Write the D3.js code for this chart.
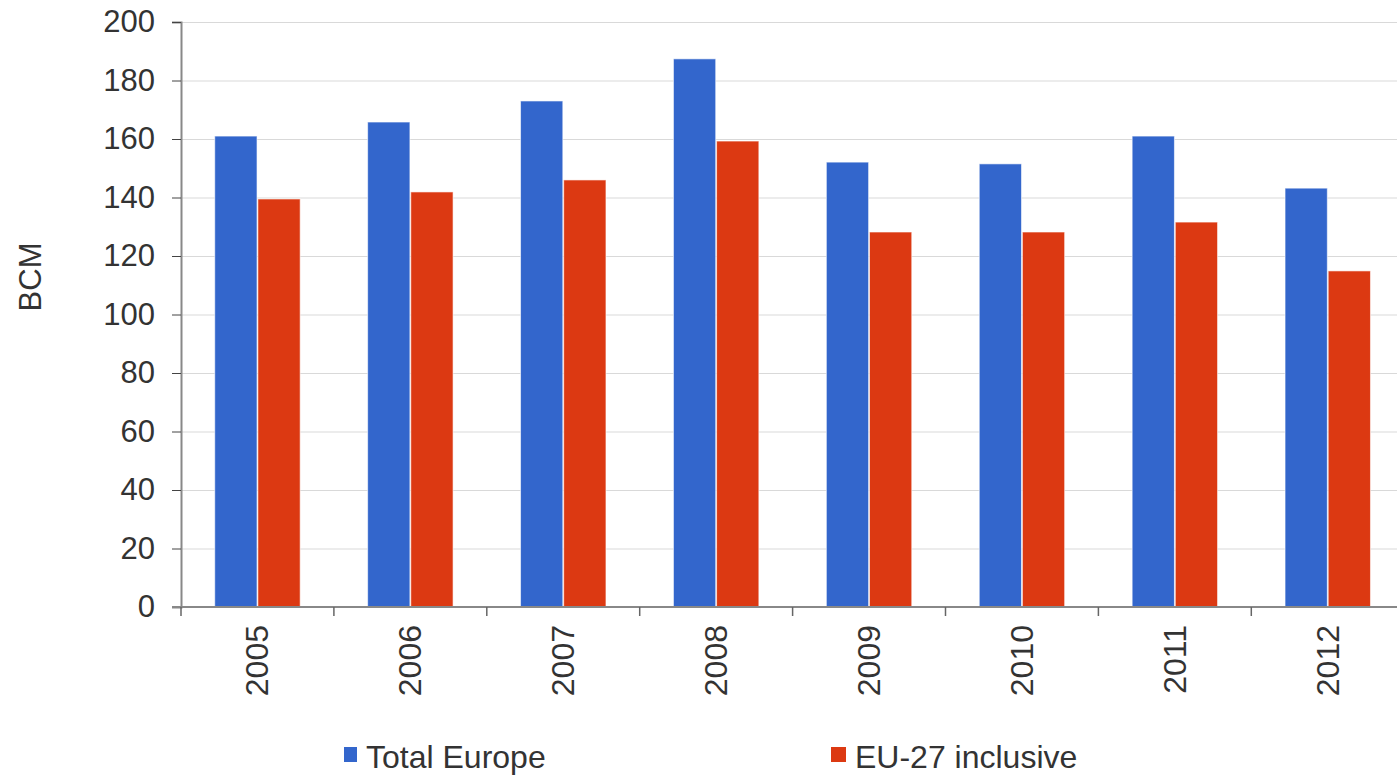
<!DOCTYPE html>
<html>
<head>
<meta charset="utf-8">
<script src="https://cdn.jsdelivr.net/npm/d3@7"></script>
<style>
  body { margin: 0; background: #fff; overflow: hidden; }
  text { font-family: "Liberation Sans", Arial, sans-serif; fill: #333; }
</style>
</head>
<body>
<div id="chart"></div>
<script>
const years = ["2005", "2006", "2007", "2008", "2009", "2010", "2011", "2012"];
const totalEurope = [161, 165.8, 173, 187.4, 152.1, 151.5, 161, 143.2];
const eu27 = [139.5, 141.9, 146, 159.3, 128.2, 128.2, 131.6, 114.9];
const seriesNames = ["Total Europe", "EU-27 inclusive"];
const seriesColors = ["#3366cc", "#dc3912"];
const yTicks = [0, 20, 40, 60, 80, 100, 120, 140, 160, 180, 200];

const width = 1397, height = 775;
const plotLeft = 181, plotTop = 22, plotBottom = 168;
const step = 152.9; // plot runs a bit past the right edge

const svg = d3.select("#chart").append("svg")
  .attr("width", width)
  .attr("height", height);

const x0 = d3.scaleBand()
  .domain(years)
  .range([plotLeft, plotLeft + step * years.length])
  .paddingInner(0.43)
  .paddingOuter(0.215);

const x1 = d3.scaleBand()
  .domain(seriesNames)
  .range([0, x0.bandwidth()])
  .padding(0.02);

const y = d3.scaleLinear()
  .domain([0, 200])
  .range([height - plotBottom, plotTop]);

// gridlines
svg.append("g")
  .selectAll("line")
  .data(yTicks.filter(d => d > 0))
  .join("line")
  .attr("x1", plotLeft)
  .attr("x2", width)
  .attr("y1", d => y(d) + 0.5)
  .attr("y2", d => y(d) + 0.5)
  .attr("stroke", "#d9d9d9")
  .attr("stroke-width", 1);

// bars
const groups = svg.append("g")
  .selectAll("g")
  .data(years.map((yr, i) => ({ year: yr, values: [totalEurope[i], eu27[i]] })))
  .join("g")
  .attr("transform", d => `translate(${x0(d.year)},0)`);

groups.selectAll("rect")
  .data(d => d.values.map((v, j) => ({ name: seriesNames[j], value: v, color: seriesColors[j] })))
  .join("rect")
  .attr("x", d => x1(d.name))
  .attr("width", x1.bandwidth())
  .attr("y", d => y(d.value))
  .attr("height", d => y(0) - y(d.value))
  .attr("fill", d => d.color)
  .attr("stroke", "#fff")
  .attr("stroke-opacity", 0.6)
  .attr("stroke-width", 1);

// y axis
const yAxis = svg.append("g")
  .attr("transform", `translate(${plotLeft},0)`)
  .call(d3.axisLeft(y).tickValues(yTicks).tickSize(9).tickPadding(17));
yAxis.select(".domain").attr("stroke", "#888").attr("stroke-width", 2);
yAxis.selectAll(".tick line").attr("stroke", "#444");
yAxis.selectAll(".tick text")
  .style("font-size", "31px")
  .style("font-family", "Liberation Sans, Arial, sans-serif")
  .attr("fill", "#333");

// x axis
const xAxisG = svg.append("g")
  .attr("transform", `translate(0,${y(0)})`);
xAxisG.append("line")
  .attr("x1", plotLeft - 9)
  .attr("x2", width)
  .attr("y1", 0)
  .attr("y2", 0)
  .attr("stroke", "#888")
  .attr("stroke-width", 2);

// category boundary ticks
xAxisG.selectAll(".bt")
  .data(years)
  .join("line")
  .attr("class", "bt")
  .attr("x1", d => x0(d) - x0.step() * 0.215)
  .attr("x2", d => x0(d) - x0.step() * 0.215)
  .attr("y1", 0)
  .attr("y2", 9)
  .attr("stroke", "#666")
  .attr("stroke-width", 1.5);

xAxisG.selectAll(".yl")
  .data(years)
  .join("text")
  .attr("class", "yl")
  .attr("transform", d => `translate(${x0(d) + x0.bandwidth() / 2 + 11},18) rotate(-90)`)
  .attr("text-anchor", "end")
  .style("font-size", "32px")
  .text(d => d);

// y title
svg.append("text")
  .attr("transform", `translate(41,277) rotate(-90)`)
  .attr("text-anchor", "middle")
  .style("font-size", "31px")
  .text("BCM");

// legend
const legendX = [344, 831];
const legend = svg.append("g")
  .selectAll("g")
  .data(seriesNames)
  .join("g")
  .attr("transform", (d, i) => `translate(${legendX[i]},757)`);

legend.append("rect")
  .attr("y", -10)
  .attr("width", (d, i) => i === 0 ? 13 : 15)
  .attr("height", 15)
  .attr("fill", (d, i) => seriesColors[i]);

legend.append("text")
  .attr("x", (d, i) => i === 0 ? 22 : 24)
  .attr("y", 11)
  .style("font-size", "32px")
  .text(d => d);
</script>
</body>
</html>
